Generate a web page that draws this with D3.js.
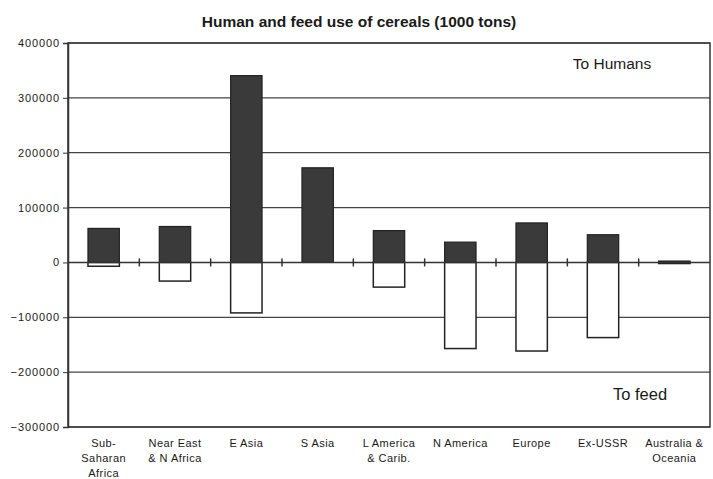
<!DOCTYPE html>
<html>
<head>
<meta charset="utf-8">
<script src="https://cdn.jsdelivr.net/npm/d3@7"></script>
<style>
  html, body { margin: 0; padding: 0; background: #fff; }
  svg { display: block; font-family: Arial, "Liberation Sans", sans-serif; }
</style>
</head>
<body>
<svg id="chart" width="713" height="479"></svg>
<script>
const categories = [
  ["Sub-", "Saharan", "Africa"],
  ["Near East", "& N Africa"],
  ["E Asia"],
  ["S Asia"],
  ["L America", "& Carib."],
  ["N America"],
  ["Europe"],
  ["Ex-USSR"],
  ["Australia &", "Oceania"]
];
const toHumans = [62000, 65500, 340500, 172500, 58000, 37000, 72000, 50500, 2500];
const toFeed   = [-7000, -34000, -92000, 0, -45000, -157000, -161500, -137000, -2000];
const yTicks = [400000, 300000, 200000, 100000, 0, -100000, -200000, -300000];
const title = "Human and feed use of cereals (1000 tons)";
const labelTop = "To Humans";
const labelBottom = "To feed";

const W = 713, H = 479;
const margin = { top: 43, right: 3, bottom: 52, left: 68 };
const svg = d3.select("#chart");

const keys = categories.map((c, i) => i);
const x = d3.scaleBand().domain(keys).range([margin.left, W - margin.right]).padding(0);
const y = d3.scaleLinear().domain([-300000, 400000]).range([H - margin.bottom, margin.top]);
const barW = x.bandwidth() * 0.44;

// gridlines
svg.append("g").selectAll("line")
  .data(yTicks.filter(t => t !== 0))
  .join("line")
  .attr("x1", margin.left).attr("x2", W - margin.right)
  .attr("y1", d => y(d)).attr("y2", d => y(d))
  .attr("stroke", "#444").attr("stroke-width", 1.2);

// frame
svg.append("rect")
  .attr("x", margin.left).attr("y", y(400000))
  .attr("width", W - margin.right - margin.left)
  .attr("height", y(-300000) - y(400000))
  .attr("fill", "none").attr("stroke", "#333").attr("stroke-width", 1.5);

// y axis
const yAxis = d3.axisLeft(y).tickValues(yTicks).tickSize(5).tickPadding(3).tickFormat(d3.format("d"));
const gy = svg.append("g").attr("transform", `translate(${margin.left},0)`).call(yAxis);
gy.select(".domain").attr("stroke", "#333").attr("stroke-width", 1.5);
gy.selectAll(".tick line").attr("stroke", "#333");
gy.selectAll(".tick text")
  .attr("font-size", 11).attr("letter-spacing", "0.9px")
  .attr("fill", "#1a1a1a").attr("font-family", "Arial, 'Liberation Sans', sans-serif");

// feed bars (white)
svg.append("g").selectAll("rect")
  .data(toFeed.map((v, i) => ({ v, i })).filter(d => d.v < 0))
  .join("rect")
  .attr("x", d => x(d.i) + (x.bandwidth() - barW) / 2)
  .attr("width", barW)
  .attr("y", y(0))
  .attr("height", d => y(d.v) - y(0))
  .attr("fill", "#fff").attr("stroke", "#222").attr("stroke-width", 1.5);

// human bars (dark)
svg.append("g").selectAll("rect")
  .data(toHumans.map((v, i) => ({ v, i })))
  .join("rect")
  .attr("x", d => x(d.i) + (x.bandwidth() - barW) / 2)
  .attr("width", barW)
  .attr("y", d => y(d.v))
  .attr("height", d => y(0) - y(d.v))
  .attr("fill", "#3a3a3a").attr("stroke", "#222").attr("stroke-width", 1.2);

// zero axis with category boundary ticks
const gx = svg.append("g");
gx.append("line")
  .attr("x1", margin.left).attr("x2", W - margin.right)
  .attr("y1", y(0)).attr("y2", y(0))
  .attr("stroke", "#333").attr("stroke-width", 1.5);
gx.selectAll("line.bt")
  .data(keys.slice(1))
  .join("line").attr("class", "bt")
  .attr("x1", d => x(d)).attr("x2", d => x(d))
  .attr("y1", y(0) - 4).attr("y2", y(0) + 4)
  .attr("stroke", "#333").attr("stroke-width", 1.5);

// category labels
const lab = svg.append("g");
categories.forEach((lines, i) => {
  const t = lab.append("text")
    .attr("x", x(i) + x.bandwidth() / 2)
    .attr("y", 447)
    .attr("text-anchor", "middle")
    .attr("font-size", 11)
    .attr("letter-spacing", "0.45px")
    .attr("fill", "#1a1a1a");
  lines.forEach((ln, j) => {
    t.append("tspan").attr("x", x(i) + x.bandwidth() / 2).attr("dy", j === 0 ? 0 : 15).text(ln);
  });
});

// title
svg.append("text")
  .attr("x", 359).attr("y", 27)
  .attr("text-anchor", "middle")
  .attr("font-size", 15.5).attr("font-weight", "bold")
  .attr("fill", "#1a1a1a")
  .text(title);

// annotations
svg.append("text")
  .attr("x", 612).attr("y", 69)
  .attr("text-anchor", "middle")
  .attr("font-size", 15.5).attr("fill", "#1a1a1a")
  .text(labelTop);
svg.append("text")
  .attr("x", 640).attr("y", 400)
  .attr("text-anchor", "middle")
  .attr("font-size", 16.5).attr("fill", "#1a1a1a")
  .text(labelBottom);
</script>
</body>
</html>
